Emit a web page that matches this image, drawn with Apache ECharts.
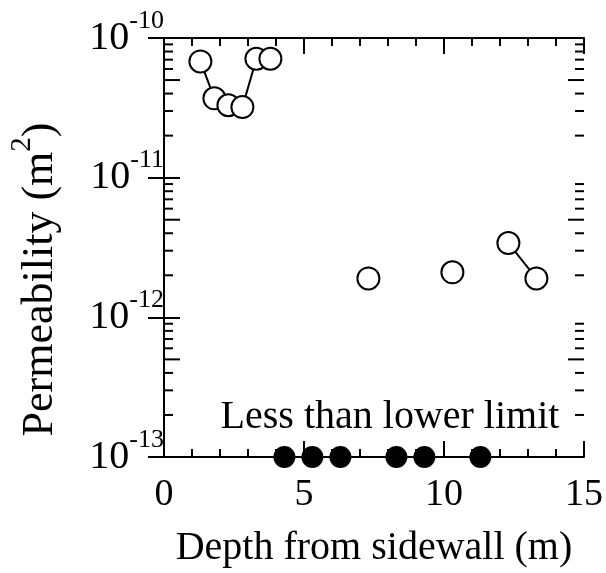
<!DOCTYPE html>
<html>
<head>
<meta charset="utf-8">
<script src="https://cdn.jsdelivr.net/npm/echarts@6/dist/echarts.min.js"></script>
<style>
html,body{margin:0;padding:0;background:#fff;}
#chart{width:606px;height:573px;}
</style>
</head>
<body>
<div id="chart"></div>
<script>
// Data
const depthOpen = [1.3, 1.8, 2.3, 2.8, 3.3, 3.8, 7.3, 10.3, 12.3, 13.3];
const permOpen = [6.8e-11, 3.7e-11, 3.3e-11, 3.2e-11, 7.1e-11, 7.1e-11, 1.9e-12, 2.1e-12, 3.4e-12, 1.9e-12];
// index ranges of points joined by a line
const openSegments = [[0, 5], [6, 6], [7, 7], [8, 9]];

const depthBelow = [4.3, 5.3, 6.3, 8.3, 9.3, 11.3];
const lowerLimit = 1e-13;

// axes
const xTicks = [0, 5, 10, 15];
const yDecades = [-13, -12, -11, -10];
const yMinorMantissa = [2, 3, 4, 5, 6, 7, 8, 9];
const annotation = 'Less than lower limit';

const FONT = '"Liberation Serif", "Times New Roman", serif';

const chart = echarts.init(document.getElementById('chart'), null, {renderer: 'canvas'});

const openSeries = openSegments.map(([a, b]) => ({
  type: 'line',
  data: depthOpen.slice(a, b + 1).map((x, i) => [x, permOpen[a + i]]),
  symbol: 'circle',
  symbolSize: 22,
  showSymbol: true,
  clip: false,
  lineStyle: {color: '#000', width: 2},
  itemStyle: {color: '#fff', borderColor: '#000', borderWidth: 2, opacity: 1},
  emphasis: {disabled: true},
  animation: false,
  z: 5
}));

const minorTickData = [];
yDecades.slice(0, -1).forEach(e => {
  yMinorMantissa.forEach(m => {
    minorTickData.push([0, m * Math.pow(10, e), m === 5 ? 16 : 9]);
  });
});

const minorTickSeries = {
  type: 'custom',
  data: minorTickData,
  silent: true,
  clip: false,
  animation: false,
  z: 3,
  renderItem: function (params, api) {
    const v = api.value(1);
    const len = api.value(2);
    const pl = api.coord([0, v]);
    const pr = api.coord([15, v]);
    const st = {stroke: '#000', lineWidth: 2};
    return {
      type: 'group',
      children: [
        {type: 'line', shape: {x1: pl[0], y1: pl[1], x2: pl[0] + len, y2: pl[1]}, style: st},
        {type: 'line', shape: {x1: pr[0], y1: pr[1], x2: pr[0] - len, y2: pr[1]}, style: st}
      ]
    };
  }
};

const belowSeries = {
  type: 'scatter',
  data: depthBelow.map(x => [x, lowerLimit]),
  symbol: 'circle',
  symbolSize: 22,
  clip: false,
  itemStyle: {color: '#000', borderColor: '#000', borderWidth: 0, opacity: 1},
  emphasis: {disabled: true},
  animation: false,
  z: 6
};

const axisLineStyle = {show: true, lineStyle: {color: '#000', width: 2}};

const xCommon = {
  type: 'value',
  min: 0,
  max: 15,
  interval: 5,
  axisLine: axisLineStyle,
  axisTick: {show: true, inside: true, length: 16, lineStyle: {color: '#000', width: 2}},
  minorTick: {show: true, splitNumber: 5, length: 8, lineStyle: {color: '#000', width: 2}},
  splitLine: {show: false},
  minorSplitLine: {show: false}
};

const yCommon = {
  type: 'log',
  logBase: 10,
  min: Math.pow(10, yDecades[0]),
  max: Math.pow(10, yDecades[yDecades.length - 1]),
  interval: 1,
  axisLine: axisLineStyle,
  axisTick: {show: true, inside: true, length: 16, lineStyle: {color: '#000', width: 2}},
  minorTick: {show: false},
  splitLine: {show: false},
  minorSplitLine: {show: false}
};

chart.setOption({
  animation: false,
  backgroundColor: '#fff',
  grid: {left: 161, top: 38, right: 21, bottom: 112, containLabel: false},
  xAxis: [
    Object.assign({}, xCommon, {
      position: 'bottom',
      name: 'Depth from sidewall (m)',
      nameLocation: 'middle',
      nameGap: 71,
      nameTextStyle: {fontFamily: FONT, fontSize: 40, color: '#000', lineHeight: 40},
      axisLabel: {
        show: true,
        margin: 19,
        fontFamily: FONT,
        fontSize: 38,
        lineHeight: 38,
        color: '#000',
        showMinLabel: true,
        showMaxLabel: true,
        formatter: function (v) { return xTicks.indexOf(v) >= 0 ? String(v) : ''; }
      }
    }),
    Object.assign({}, xCommon, {
      position: 'top',
      axisLabel: {show: false}
    })
  ],
  yAxis: [
    Object.assign({}, yCommon, {
      position: 'left',
      name: 'Permeability (m{s|2})',
      nameLocation: 'middle',
      nameGap: 102,
      nameRotate: 90,
      nameTextStyle: {
        fontFamily: FONT, fontSize: 44, lineHeight: 44, color: '#000',
        padding: [0, 64, 0, 0],
        rich: {
          s: {fontFamily: FONT, fontSize: 29, lineHeight: 29, padding: [0, 0, 25, 0], verticalAlign: 'bottom', color: '#000'}
        }
      },
      axisLabel: {
        show: true,
        margin: 0,
        color: '#000',
        showMinLabel: true,
        showMaxLabel: true,
        formatter: function (v) {
          const e = Math.round(Math.log10(v));
          return '{b|10}{s|' + e + '}';
        },
        rich: {
          b: {fontFamily: FONT, fontSize: 40, lineHeight: 40, verticalAlign: 'bottom', color: '#000'},
          s: {fontFamily: FONT, fontSize: 26, lineHeight: 26, padding: [0, 0, 24, 0], verticalAlign: 'bottom', color: '#000'}
        }
      }
    }),
    Object.assign({}, yCommon, {
      position: 'right',
      axisLabel: {show: false}
    })
  ],
  graphic: [{
    type: 'text',
    x: 390,
    y: 417,
    z: 10,
    style: {
      text: annotation,
      fontFamily: FONT,
      fontSize: 40,
      fill: '#000',
      align: 'center',
      verticalAlign: 'middle'
    }
  }],
  series: [minorTickSeries].concat(openSeries, [belowSeries])
});
</script>
</body>
</html>
